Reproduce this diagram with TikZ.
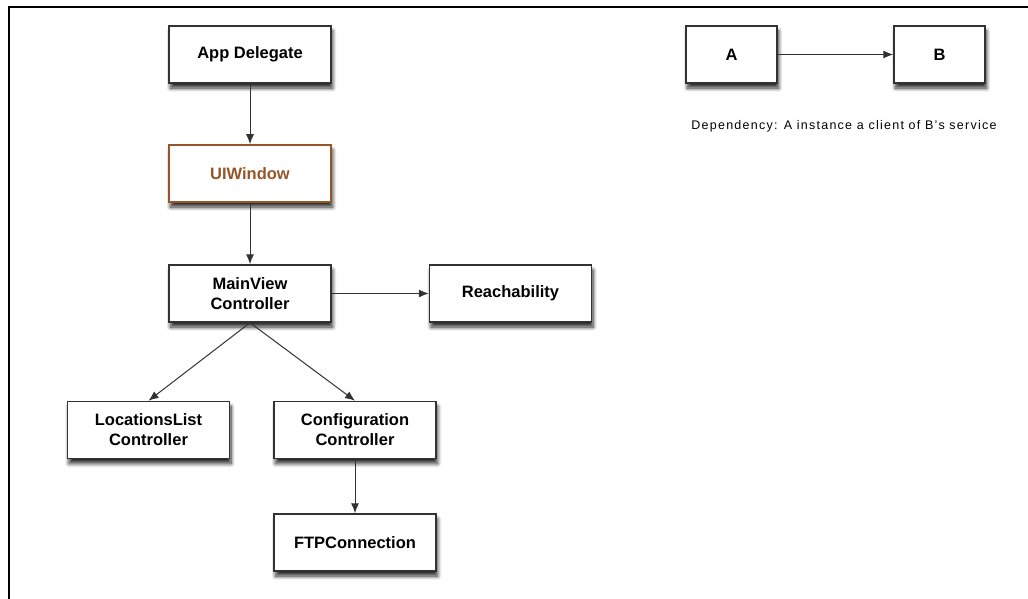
\documentclass[tikz,border=0pt]{standalone}
\usepackage{fontspec}
\setmainfont{Liberation Sans}
\usetikzlibrary{shadows.blur,arrows.meta}
\definecolor{boxline}{RGB}{50,50,50}
\definecolor{winbrown}{RGB}{150,85,40}
\begin{document}
\begin{tikzpicture}[x=1pt,y=-1pt,
  box/.style={draw=boxline, line width=1.5pt, fill=white, align=center,
    minimum width=162pt, minimum height=57pt, inner sep=2pt,
    font=\fontsize{16.5}{20}\selectfont\bfseries,
    blur shadow={shadow xshift=1.5pt, shadow yshift=-5pt,
      shadow blur radius=4pt, shadow blur steps=8, shadow opacity=85}},
  dep/.style={draw=boxline, line width=1pt, -{Latex[length=10pt,width=8pt]}}]
\useasboundingbox (0,0) rectangle (1028,599);
\draw[line width=2.5pt] (9,599) -- (9,7) -- (1028,7);

\node[box] (app) at (250,54.5) {App Delegate};
\node[box, draw=winbrown, text=winbrown] (win) at (250,173.5) {UIWindow};
\node[box] (main) at (250,293.5) {MainView\\Controller};
\node[box] (reach) at (510.5,293.5) {Reachability};
\node[box] (loc) at (148.5,430) {LocationsList\\Controller};
\node[box] (conf) at (355,430) {Configuration\\Controller};
\node[box] (ftp) at (355,542.5) {FTPConnection};

\node[box, minimum width=91pt] (a) at (731.5,54.5) {A};
\node[box, minimum width=91pt] (b) at (939.5,54.5) {B};
\node[font=\addfontfeatures{LetterSpace=10}\fontsize{12.5}{14}\selectfont] (note) at (844,126) {Dependency: A instance a client of B's service};

\path[dep] (app) -- (win);
\path[dep] (win) -- (main);
\path[dep] (main) -- (reach);
\path[dep] (main.south) -- (loc.north);
\path[dep] (main.south) -- (conf.north);
\path[dep] (conf) -- (ftp);
\path[dep] (a) -- (b);
\end{tikzpicture}
\end{document}
